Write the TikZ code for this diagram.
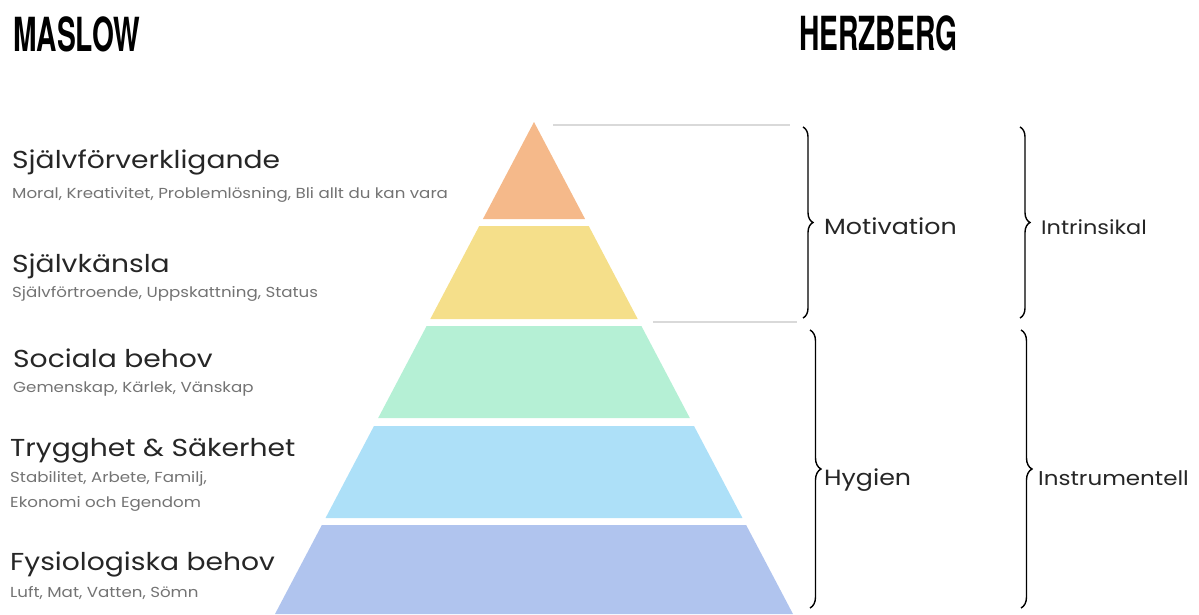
\documentclass[tikz,border=0pt]{standalone}
\usepackage{fontspec}
\setmainfont{Poppins}[FakeStretch=1.15]
\newfontfamily\titlefont[FakeStretch=0.6]{TeX Gyre Heros}
\usetikzlibrary{calc,decorations.pathreplacing}
\definecolor{lvltop}{HTML}{F5B98A}
\definecolor{lvlesteem}{HTML}{F5DF8A}
\definecolor{lvlsocial}{HTML}{B5F0D5}
\definecolor{lvlsafety}{HTML}{ADE0F8}
\definecolor{lvlbody}{HTML}{B0C4EE}
\tikzset{every node/.style={inner sep=0pt, anchor=base west}, >= latex,
  title/.style={font=\titlefont\bfseries\fontsize{47}{50}\selectfont},
  need/.style={font=\fontsize{24.5}{28}\selectfont, text=black!85},
  detail/.style={font=\fontsize{14.5}{17}\selectfont, text=black!55},
  herz/.style={font=\fontsize{22}{26}\selectfont, text=black!85},
  brace/.style={decorate, decoration={brace, amplitude=#1}, line width=1.4pt},
  guide/.style={draw=black!15, line width=1.2pt}}

\begin{document}
\begin{tikzpicture}[x=1pt, y=-1pt]
  \useasboundingbox (0,0) rectangle (1199,614);
  % titles
  \node [title] (maslow) at (13,51) {MASLOW};
  \node [title] (herzberg) at (799,50) {HERZBERG};
  % pyramid
  \coordinate (apex) at (534,122);
  \coordinate (bl) at (275,614);
  \coordinate (br) at (793,614);
  \foreach \t/\b/\c in {122/219/lvltop, 226/319/lvlesteem, 326/418/lvlsocial, 426/518/lvlsafety, 525/614/lvlbody}
    \fill [\c] ($(apex)!{(\t-122)/492}!(bl)$) -- ($(apex)!{(\b-122)/492}!(bl)$)
      -- ($(apex)!{(\b-122)/492}!(br)$) -- ($(apex)!{(\t-122)/492}!(br)$) -- cycle;
  % maslow levels
  \node [need] (self) at (12,168) {Självförverkligande};
  \node [detail] (selfd) at (12,198) {Moral, Kreativitet, Problemlösning, Bli allt du kan vara};
  \node [need] (esteem) at (12,272) {Självkänsla};
  \node [detail] (esteemd) at (12,297) {Självförtroende, Uppskattning, Status};
  \node [need] (social) at (13,367) {Sociala behov};
  \node [detail] (sociald) at (13,392) {Gemenskap, Kärlek, Vänskap};
  \node [need] (safety) at (10,456) {Trygghet \& Säkerhet};
  \node [detail] (safetyd) at (10,482) {Stabilitet, Arbete, Familj,};
  \node [detail] (safetye) at (10,507) {Ekonomi och Egendom};
  \node [need] (body) at (10,570) {Fysiologiska behov};
  \node [detail] (bodyd) at (10,597) {Luft, Mat, Vatten, Sömn};
  % guides
  \coordinate (g1a) at (553,125); \coordinate (g1b) at (790,125);
  \coordinate (g2a) at (653,322); \coordinate (g2b) at (797,322);
  \draw [guide] (g1a) -- (g1b);
  \draw [guide] (g2a) -- (g2b);
  % herzberg braces
  \coordinate (m1) at (803,127); \coordinate (m2) at (803,318);
  \coordinate (h1) at (810,330); \coordinate (h2) at (810,608);
  \coordinate (i1) at (1020,127); \coordinate (i2) at (1020,318);
  \coordinate (n1) at (1021,330); \coordinate (n2) at (1021,608);
  \draw [brace=10pt] (m1) -- (m2);
  \draw [brace=11pt] (h1) -- (h2);
  \draw [brace=10pt] (i1) -- (i2);
  \draw [brace=11pt] (n1) -- (n2);
  \node [herz] (motiv) at (824,234) {Motivation};
  \node [herz] (hyg) at (824,485) {Hygien};
  \node [herz, font=\fontsize{19.5}{24}\selectfont] (intr) at (1041,234) {Intrinsikal};
  \node [herz, font=\fontsize{20}{24}\selectfont] (instr) at (1038,485) {Instrumentell};
\end{tikzpicture}
\end{document}
